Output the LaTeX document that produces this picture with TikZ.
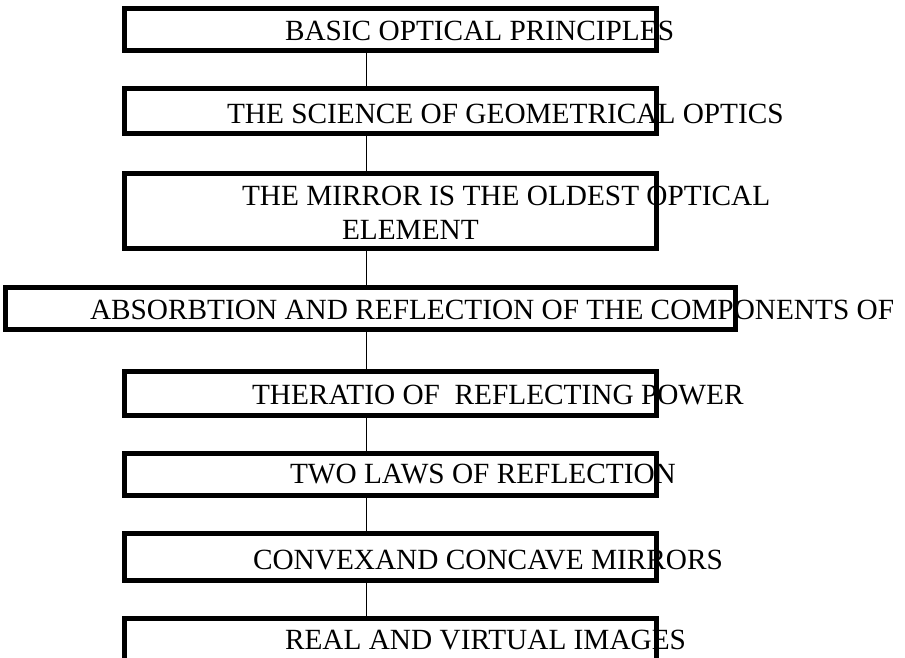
\documentclass[tikz,border=0pt]{standalone}
\usepackage{fontspec}
\setmainfont{Liberation Serif}
\begin{document}
\begin{tikzpicture}[x=1pt,y=-1pt,
  box/.style={draw=black,line width=5pt,inner sep=0pt,outer sep=0pt},
  lbl/.style={anchor=base west,inner sep=0pt,outer sep=0pt,text=black,
    font=\fontsize{29.3}{33.7}\selectfont},
  conn/.style={draw=black,line width=1pt}]
\useasboundingbox (0,0) rectangle (905,658);
\clip (0,0) rectangle (905,658);
\fill[white] (0,0) rectangle (905,658);
% texts
\node[lbl] (t1) at (285,40.7) {BASIC OPTICAL PRINCIPLES};
\node[lbl] (t2) at (227,124) {THE SCIENCE OF GEOMETRICAL OPTICS};
\node[lbl] (t3a) at (242,205) {THE MIRROR IS THE OLDEST OPTICAL};
\node[lbl] (t3b) at (342,239) {ELEMENT};
\node[lbl] (t4) at (90,319.5) {ABSORBTION AND REFLECTION OF THE COMPONENTS OF};
\node[lbl] (t5) at (252,404.5) {THERATIO OF\ \ REFLECTING POWER};
\node[lbl] (t6) at (290,483) {TWO LAWS OF REFLECTION};
\node[lbl] (t7) at (253,569) {CONVEXAND CONCAVE MIRRORS};
\node[lbl] (t8) at (285,649) {REAL AND VIRTUAL IMAGES};
% boxes
\node[box,minimum width=532pt,minimum height=42pt] (b1) at (390,29.5) {};
\node[box,minimum width=532pt,minimum height=45.5pt] (b2) at (390,111.25) {};
\node[box,minimum width=532pt,minimum height=75pt] (b3) at (390,211) {};
\node[box,minimum width=730pt,minimum height=42pt] (b4) at (370,308.5) {};
\node[box,minimum width=532pt,minimum height=43.5pt] (b5) at (390,393.25) {};
\node[box,minimum width=532pt,minimum height=41.5pt] (b6) at (390,474.25) {};
\node[box,minimum width=532pt,minimum height=47pt] (b7) at (390,557) {};
\node[box,minimum width=532pt,minimum height=81.5pt] (b8) at (390,659.25) {};
% connectors
\coordinate (cx) at (366,0);
\draw[conn] (b1.south -| cx) -- (b2.north -| cx);
\draw[conn] (b2.south -| cx) -- (b3.north -| cx);
\draw[conn] (b3.south -| cx) -- (b4.north -| cx);
\draw[conn] (b4.south -| cx) -- (b5.north -| cx);
\draw[conn] (b5.south -| cx) -- (b6.north -| cx);
\draw[conn] (b6.south -| cx) -- (b7.north -| cx);
\draw[conn] (b7.south -| cx) -- (b8.north -| cx);
\end{tikzpicture}
\end{document}
